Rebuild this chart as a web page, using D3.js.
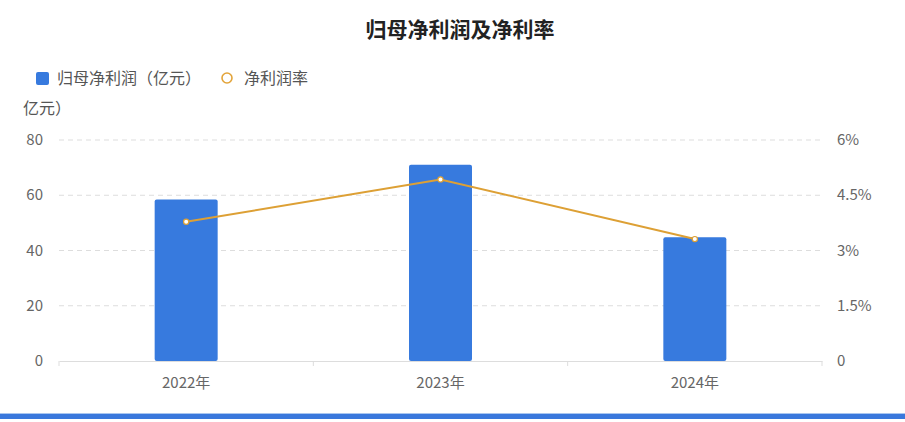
<!DOCTYPE html>
<html>
<head>
<meta charset="utf-8">
<script src="https://cdn.jsdelivr.net/npm/d3@7"></script>
<style>
  body { margin: 0; background: #fff; }
  svg { display: block; font-family: "Noto Sans CJK SC", "Noto Sans", sans-serif; }
</style>
</head>
<body>
<div id="chart"></div>
<script>
// values
var years = ["2022年", "2023年", "2024年"];
var profit = [58.5, 71.0, 44.8];      // 归母净利润 (亿元)
var margin = [3.78, 4.93, 3.31];      // 净利润率 (%)
var leftTicks = [0, 20, 40, 60, 80];
var rightTicks = [0, 1.5, 3, 4.5, 6];

var W = 905, H = 422;
var plot = {left: 59, right: 822, top: 140, bottom: 361};

var svg = d3.select("#chart").append("svg")
    .attr("width", W)
    .attr("height", H);

var x = d3.scaleBand()
    .domain(years)
    .range([plot.left, plot.right]);

var y = d3.scaleLinear()
    .domain([0, 80])
    .range([plot.bottom, plot.top]);

var y2 = d3.scaleLinear()
    .domain([0, 6])
    .range([plot.bottom, plot.top]);

// title
svg.append("text")
    .attr("x", 460)
    .attr("y", 37)
    .attr("text-anchor", "middle")
    .attr("font-size", 21)
    .attr("font-weight", "bold")
    .attr("fill", "#222")
    .text("归母净利润及净利率");

// legend
svg.append("rect")
    .attr("x", 36).attr("y", 72)
    .attr("width", 13).attr("height", 13)
    .attr("rx", 2)
    .attr("fill", "#377ade");
svg.append("text")
    .attr("x", 57).attr("y", 84)
    .attr("font-size", 16)
    .attr("fill", "#555")
    .text("归母净利润（亿元）");
svg.append("circle")
    .attr("cx", 227).attr("cy", 78).attr("r", 5)
    .attr("fill", "#fff")
    .attr("stroke", "#e3a43a")
    .attr("stroke-width", 1.6);
svg.append("text")
    .attr("x", 244).attr("y", 84)
    .attr("font-size", 16)
    .attr("fill", "#555")
    .text("净利润率");

// y axis name
svg.append("text")
    .attr("x", 23).attr("y", 114)
    .attr("font-size", 16)
    .attr("fill", "#555")
    .text("亿元）");

// gridlines
svg.append("g")
    .selectAll("line")
    .data(leftTicks.slice(1))
    .join("line")
    .attr("x1", plot.left).attr("x2", plot.right)
    .attr("y1", function(d) { return y(d); })
    .attr("y2", function(d) { return y(d); })
    .attr("stroke", "#ddd")
    .attr("stroke-dasharray", "5,4");

// left ticks
svg.append("g")
    .selectAll("text")
    .data(leftTicks)
    .join("text")
    .attr("x", 43)
    .attr("y", function(d) { return y(d) + 5; })
    .attr("text-anchor", "end")
    .attr("font-size", 15)
    .attr("fill", "#666")
    .text(function(d) { return d; });

// right ticks
svg.append("g")
    .selectAll("text")
    .data(rightTicks)
    .join("text")
    .attr("x", 837)
    .attr("y", function(d) { return y2(d) + 5; })
    .attr("font-size", 15)
    .attr("fill", "#666")
    .text(function(d) { return d === 0 ? "0" : d + "%"; });

// bars
var bw = 63;
svg.append("g")
    .selectAll("rect")
    .data(profit)
    .join("rect")
    .attr("x", function(d, i) { return x(years[i]) + x.bandwidth() / 2 - bw / 2; })
    .attr("y", function(d) { return y(d); })
    .attr("width", bw)
    .attr("height", function(d) { return plot.bottom - y(d); })
    .attr("rx", 2)
    .attr("fill", "#377ade");

// x axis
var xa = svg.append("g")
    .attr("transform", "translate(0," + plot.bottom + ")")
    .call(d3.axisBottom(x).tickSize(0).tickPadding(16));
xa.select(".domain").attr("stroke", "#ddd");
xa.selectAll("text")
    .attr("font-size", 15)
    .attr("fill", "#666")
    .attr("font-family", "\"Noto Sans CJK SC\", sans-serif");
var edges = years.map(function(d) { return x(d); }).concat([plot.right]);
xa.selectAll(".edge")
    .data(edges)
    .join("line")
    .attr("class", "edge")
    .attr("x1", function(d) { return d; })
    .attr("x2", function(d) { return d; })
    .attr("y1", 0).attr("y2", 5)
    .attr("stroke", "#ddd");

// line
var line = d3.line()
    .x(function(d, i) { return x(years[i]) + x.bandwidth() / 2; })
    .y(function(d) { return y2(d); });

svg.append("path")
    .datum(margin)
    .attr("d", line)
    .attr("fill", "none")
    .attr("stroke", "#dda035")
    .attr("stroke-width", 2);

svg.append("g")
    .selectAll("circle")
    .data(margin)
    .join("circle")
    .attr("cx", function(d, i) { return x(years[i]) + x.bandwidth() / 2; })
    .attr("cy", function(d) { return y2(d); })
    .attr("r", 2.6)
    .attr("fill", "#fff")
    .attr("stroke", "#dda035")
    .attr("stroke-width", 1.2);

// bottom band
svg.append("rect")
    .attr("x", 0).attr("y", 413)
    .attr("width", W).attr("height", 1)
    .attr("fill", "#a9c6f0");
svg.append("rect")
    .attr("x", 0).attr("y", 414)
    .attr("width", W).attr("height", 5)
    .attr("fill", "#3a78dc");
</script>
</body>
</html>
